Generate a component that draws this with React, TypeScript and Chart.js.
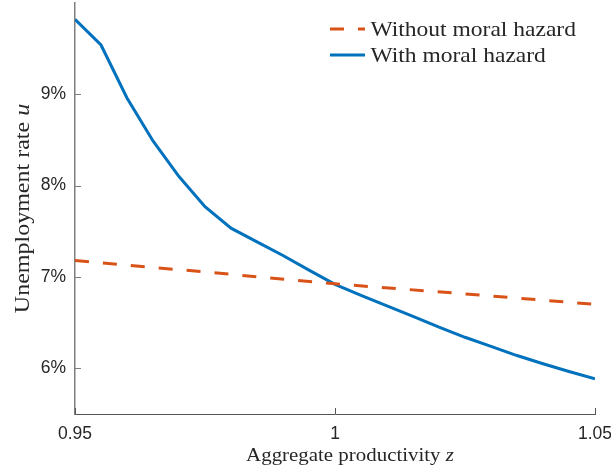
import React, { useEffect, useRef } from "react";
import { Chart, registerables } from "chart.js";

Chart.register(...registerables);

// Aggregate productivity grid (model solution nodes)
const zGrid = [
  0.95, 0.955, 0.96, 0.965, 0.97, 0.975, 0.98, 0.985, 0.99, 0.995, 1.0,
  1.005, 1.01, 1.015, 1.02, 1.025, 1.03, 1.035, 1.04, 1.045, 1.05,
];
// Unemployment rate (%) with moral hazard, on zGrid
const uWithMoralHazard = [
  9.82, 9.54, 8.96, 8.49, 8.1, 7.77, 7.535, 7.385, 7.235, 7.075, 6.92,
  6.8, 6.685, 6.57, 6.45, 6.34, 6.24, 6.14, 6.05, 5.965, 5.885,
];
// Unemployment rate (%) without moral hazard
const zCoarse = [0.95, 0.975, 1.0, 1.025, 1.05];
const uWithoutMoralHazard = [7.18, 7.055, 6.925, 6.815, 6.7];

const xTickValues = [0.95, 1.0, 1.05];
const xTickLabels = ["0.95", "1", "1.05"];
const yTickValues = [6, 7, 8, 9];
const yTickLabels = ["6%", "7%", "8%", "9%"];

const seriesLabels = ["Without moral hazard", "With moral hazard"];
const xTitle = [{ text: "Aggregate productivity " }, { text: "z", italic: true }];
const yTitle = [{ text: "Unemployment rate " }, { text: "u", italic: true }];

const SERIF = "'Liberation Serif', 'Times New Roman', serif";
const SANS = "'Liberation Sans', Arial, Helvetica, sans-serif";
const TEXT = "#262626";
const RED = "#D95319";
const BLUE = "#0072BD";

type Run = { text: string; italic?: boolean };

function drawRuns(
  ctx: CanvasRenderingContext2D,
  runs: Run[],
  x: number,
  y: number,
  size: number,
  stretch: number,
  align: "left" | "center"
) {
  const fontFor = (r: Run) => `${r.italic ? "italic " : ""}${size}px ${SERIF}`;
  let w = 0;
  for (const r of runs) {
    ctx.font = fontFor(r);
    w += ctx.measureText(r.text).width;
  }
  ctx.save();
  ctx.translate(x, y);
  ctx.scale(stretch, 1);
  ctx.fillStyle = TEXT;
  ctx.textAlign = "left";
  ctx.textBaseline = "alphabetic";
  let cx = align === "center" ? -w / 2 : 0;
  for (const r of runs) {
    ctx.font = fontFor(r);
    ctx.fillText(r.text, cx, 0);
    cx += ctx.measureText(r.text).width;
  }
  ctx.restore();
}

// Tick marks pointing into the plot area
const innerTicks = {
  id: "innerTicks",
  afterDatasetsDraw(chart: any) {
    const { ctx, chartArea, scales } = chart;
    ctx.save();
    ctx.lineWidth = 1;
    ctx.strokeStyle = "#555";
    for (const v of xTickValues) {
      const px = Math.round(scales.x.getPixelForValue(v)) + 0.5;
      ctx.beginPath();
      ctx.moveTo(px, chartArea.bottom);
      ctx.lineTo(px, chartArea.bottom - 6);
      ctx.stroke();
    }
    ctx.strokeStyle = "#7f7f7f";
    for (const v of yTickValues) {
      const py = Math.round(scales.y.getPixelForValue(v)) + 0.5;
      ctx.beginPath();
      ctx.moveTo(chartArea.left, py);
      ctx.lineTo(chartArea.left + 6, py);
      ctx.stroke();
    }
    ctx.restore();
  },
};

// Axis titles and legend in a serif face
const serifText = {
  id: "serifText",
  afterDraw(chart: any) {
    const { ctx, chartArea } = chart;
    const cxMid = (chartArea.left + chartArea.right) / 2;
    drawRuns(ctx, xTitle, cxMid + 15, 461, 19, 1.1, "center");

    ctx.save();
    ctx.translate(29, (chartArea.top + chartArea.bottom) / 2);
    ctx.rotate(-Math.PI / 2);
    drawRuns(ctx, yTitle, 0, 0, 20, 1.2, "center");
    ctx.restore();

    const ds = chart.data.datasets;
    const lx0 = 330;
    const lx1 = 365;
    const rows = [29, 55];
    ds.forEach((d: any, i: number) => {
      const y = rows[i];
      ctx.save();
      ctx.strokeStyle = d.borderColor;
      ctx.lineWidth = d.borderWidth;
      ctx.setLineDash(d.borderDash || []);
      ctx.beginPath();
      ctx.moveTo(lx0, y);
      ctx.lineTo(lx1, y);
      ctx.stroke();
      ctx.restore();
      drawRuns(ctx, [{ text: d.label }], 370.5, y + 7, 21, 1.12, "left");
    });
  },
};

export default function App() {
  const canvasRef = useRef<HTMLCanvasElement | null>(null);

  useEffect(() => {
    const canvas = canvasRef.current;
    if (!canvas) return;
    const chart = new Chart(canvas, {
      type: "line",
      data: {
        datasets: [
          {
            label: seriesLabels[0],
            data: zCoarse.map((z, i) => ({ x: z, y: uWithoutMoralHazard[i] })),
            borderColor: RED,
            borderWidth: 3,
            borderDash: [14, 14],
            pointRadius: 0,
            tension: 0,
            fill: false,
          },
          {
            label: seriesLabels[1],
            data: zGrid.map((z, i) => ({ x: z, y: uWithMoralHazard[i] })),
            borderColor: BLUE,
            borderWidth: 3,
            pointRadius: 0,
            tension: 0,
            fill: false,
          },
        ],
      },
      options: {
        animation: false,
        responsive: false,
        devicePixelRatio: 1,
        layout: { padding: 0 },
        plugins: {
          legend: { display: false },
          tooltip: { enabled: false },
          title: { display: false },
        },
        scales: {
          x: {
            type: "linear",
            min: 0.95,
            max: 1.05,
            afterBuildTicks: (s: any) => {
              s.ticks = xTickValues.map((v) => ({ value: v }));
            },
            afterFit: (s: any) => {
              s.height = 55;
              s.paddingLeft = 0;
              s.paddingRight = 16;
              s.paddingTop = 0;
              s.paddingBottom = 0;
            },
            grid: { display: false, drawTicks: false },
            border: { display: true, color: "#555", width: 1 },
            ticks: {
              padding: 10,
              color: TEXT,
              font: { family: SANS, size: 17.5 },
              maxRotation: 0,
              callback: (_v: any, i: number) => xTickLabels[i],
            },
          },
          y: {
            type: "linear",
            min: 5.5,
            max: 10,
            afterBuildTicks: (s: any) => {
              s.ticks = yTickValues.map((v) => ({ value: v }));
            },
            afterFit: (s: any) => {
              s.width = 75;
              s.paddingTop = 3;
              s.paddingBottom = 0;
              s.paddingLeft = 0;
              s.paddingRight = 0;
            },
            grid: { display: false, drawTicks: false },
            border: { display: true, color: "#7f7f7f", width: 1.5 },
            ticks: {
              padding: 9,
              color: TEXT,
              font: { family: SANS, size: 17.5 },
              callback: (_v: any, i: number) => yTickLabels[i],
            },
          },
        },
      },
      plugins: [innerTicks, serifText],
    });
    return () => chart.destroy();
  }, []);

  return (
    <div style={{ position: "fixed", left: 0, top: 0, width: 611, height: 469, background: "#fff" }}>
      <canvas ref={canvasRef} width={611} height={469} style={{ display: "block" }} />
    </div>
  );
}
